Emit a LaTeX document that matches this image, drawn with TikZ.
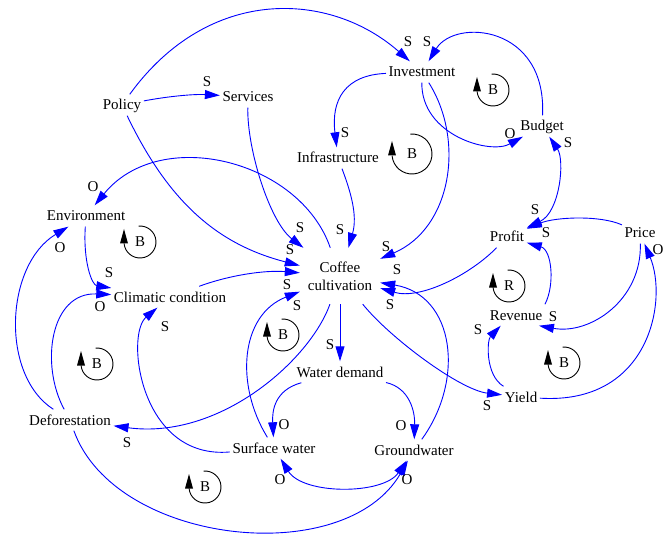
\documentclass[tikz,border=0pt]{standalone}
\usepackage{fontspec}
\setmainfont{Liberation Serif}
\usetikzlibrary{arrows.meta}

% loop marker: name, x, y, radius, letter
\newcommand\loopsign[5]{%
  \node (#1) at (#2,#3) {#5};
  \draw[black, line width=0.9bp] ([shift={(95:#4)}]#1.center)
    arc[start angle=95, end angle=-175, radius=#4];
  \fill[black] ([xshift=-#4-4bp, yshift=-1.5bp]#1.center)
    -- ([xshift=-#4+4bp, yshift=-1.5bp]#1.center)
    -- ([xshift=-#4, yshift=13bp]#1.center) -- cycle;
}

\begin{document}
\begin{tikzpicture}[x=1bp, y=-1bp,
  font=\fontsize{15bp}{18bp}\selectfont,
  vbl/.style={inner xsep=2.5bp, inner ysep=5.5bp, text height=10bp, text depth=0bp},
  pl/.style={inner sep=0pt},
  link/.style={draw=blue, line width=0.9bp, -{Triangle[length=15bp,width=9bp]}},
  twoway/.style={draw=blue, line width=0.9bp,
    {Triangle[length=15bp,width=9bp]}-{Triangle[length=15bp,width=9bp]}}]

\useasboundingbox (0,0) rectangle (665,538);

% variables
\node[vbl] (pol) at (122,105) {Policy};
\node[vbl] (srv) at (248,97) {Services};
\node[vbl] (inv) at (422,72) {Investment};
\node[vbl] (bud) at (542,126) {Budget};
\node[vbl] (inf) at (338,158) {Infrastructure};
\node[vbl] (env) at (86,216) {Environment};
\node[vbl] (cli) at (170,297) {Climatic condition};
\node[align=center, minimum width=80bp, minimum height=56bp, inner sep=0pt] (cof) at (340,276) {Coffee\\cultivation};
\node[vbl] (pro) at (507,237) {Profit};
\node[vbl] (pri) at (640,233) {Price};
\node[vbl] (rev) at (516,315) {Revenue};
\node[vbl] (yld) at (521,397) {Yield};
\node[vbl] (wd) at (340,372) {Water demand};
\node[vbl] (sw) at (274,448) {Surface water};
\node[vbl] (gw) at (414,450) {Groundwater};
\node[vbl] (def) at (70,420) {Deforestation};

% causal links
\draw[link] (pol) .. controls (209,-15) and (330,-9) .. (inv);
\draw[link] (pol) .. controls (170,96) and (195,94) .. (srv);
\draw[link] (pol) .. controls (170,205) and (220,245) .. (cof);
\draw[link] (srv) .. controls (247,150) and (270,222) .. (cof);
\draw[link] (inv) .. controls (345,75) and (331,100) .. (inf);
\draw[link] (inv) .. controls (421,135) and (490,155) .. (bud);
\draw[link] (bud) .. controls (547,25) and (455,18) .. (inv);
\draw[link] (inv) .. controls (465,140) and (452,228) .. (cof);
\draw[link] (inf) .. controls (350,190) and (358,215) .. (cof);
\draw[link] (pro) .. controls (470,275) and (420,300) .. (cof);
\draw[link] (gw) .. controls (465,380) and (455,295) .. (cof);
\draw[link] (cof) -- (wd);
\draw[link] (cof) .. controls (390,338) and (460,390) .. (yld);
\draw[link] (cof) .. controls (310,360) and (220,440) .. (def);
\draw[link] (sw) .. controls (140,460) and (125,335) .. (cli);
\draw[link] (sw) .. controls (235,385) and (240,315) .. (cof);
\draw[link] (wd) .. controls (275,390) and (272,410) .. (sw);
\draw[link] (wd) .. controls (410,388) and (415,412) .. (gw);
\draw[twoway] (sw) .. controls (303,495) and (383,495) .. (gw);
\draw[link] (def) .. controls (115,545) and (345,570) .. (gw);
\draw[link] (def) .. controls (0,375) and (5,265) .. (env);
\draw[link] (def) .. controls (40,365) and (50,292) .. (cli);
\draw[link] (env) .. controls (83,262) and (92,285) .. (cli);
\draw[link] (cli) .. controls (230,275) and (265,270) .. (cof);
\draw[link] (cof) .. controls (300,160) and (160,125) .. (env);
\draw[twoway] (pro) .. controls (560,212) and (565,160) .. (bud);
\draw[link] (pri) .. controls (600,215) and (555,217) .. (pro);
\draw[link] (rev.north east) .. controls (555,285) and (552,250) .. (pro);
\draw[link] (pri) .. controls (642,300) and (590,335) .. (rev.-25);
\draw[link] (yld) .. controls (485,375) and (487,340) .. (rev.215);
\draw[link] (yld) .. controls (650,405) and (668,300) .. (pri);

% polarities
\node[pl] (s1) at (408,42) {S};
\node[pl] (s2) at (427,42) {S};
\node[pl] (s3) at (207,82) {S};
\node[pl] (s4) at (345,133) {S};
\node[pl] (s5) at (510,134) {O};
\node[pl] (s6) at (568,143) {S};
\node[pl] (s7) at (93,187) {O};
\node[pl] (s8) at (60,248) {O};
\node[pl] (s9) at (109,273) {S};
\node[pl] (s10) at (100,307) {O};
\node[pl] (s11) at (165,327) {S};
\node[pl] (s12) at (300,228) {S};
\node[pl] (s13) at (290,250) {S};
\node[pl] (s14) at (287,285) {S};
\node[pl] (s15) at (297,306) {S};
\node[pl] (s16) at (340,230) {S};
\node[pl] (s17) at (386,247) {S};
\node[pl] (s18) at (397,270) {S};
\node[pl] (s19) at (390,305) {S};
\node[pl] (s20) at (330,345) {S};
\node[pl] (s21) at (535,210) {S};
\node[pl] (s22) at (546,233) {S};
\node[pl] (s23) at (553,317) {S};
\node[pl] (s24) at (478,330) {S};
\node[pl] (s25) at (658,250) {O};
\node[pl] (s26) at (487,406) {S};
\node[pl] (s27) at (127,443) {S};
\node[pl] (s28) at (284,425) {O};
\node[pl] (s29) at (401,426) {O};
\node[pl] (s30) at (280,480) {O};
\node[pl] (s31) at (407,480) {O};

% loop markers
\loopsign{m1}{493}{90}{16bp}{B}
\loopsign{m2}{412}{154}{20bp}{B}
\loopsign{m3}{140}{242}{16bp}{B}
\loopsign{m4}{97}{364}{16bp}{B}
\loopsign{m5}{283}{335}{16bp}{B}
\loopsign{m6}{205}{487}{16bp}{B}
\loopsign{m7}{509}{286}{16bp}{R}
\loopsign{m8}{564}{363}{16bp}{B}

\end{tikzpicture}
\end{document}
